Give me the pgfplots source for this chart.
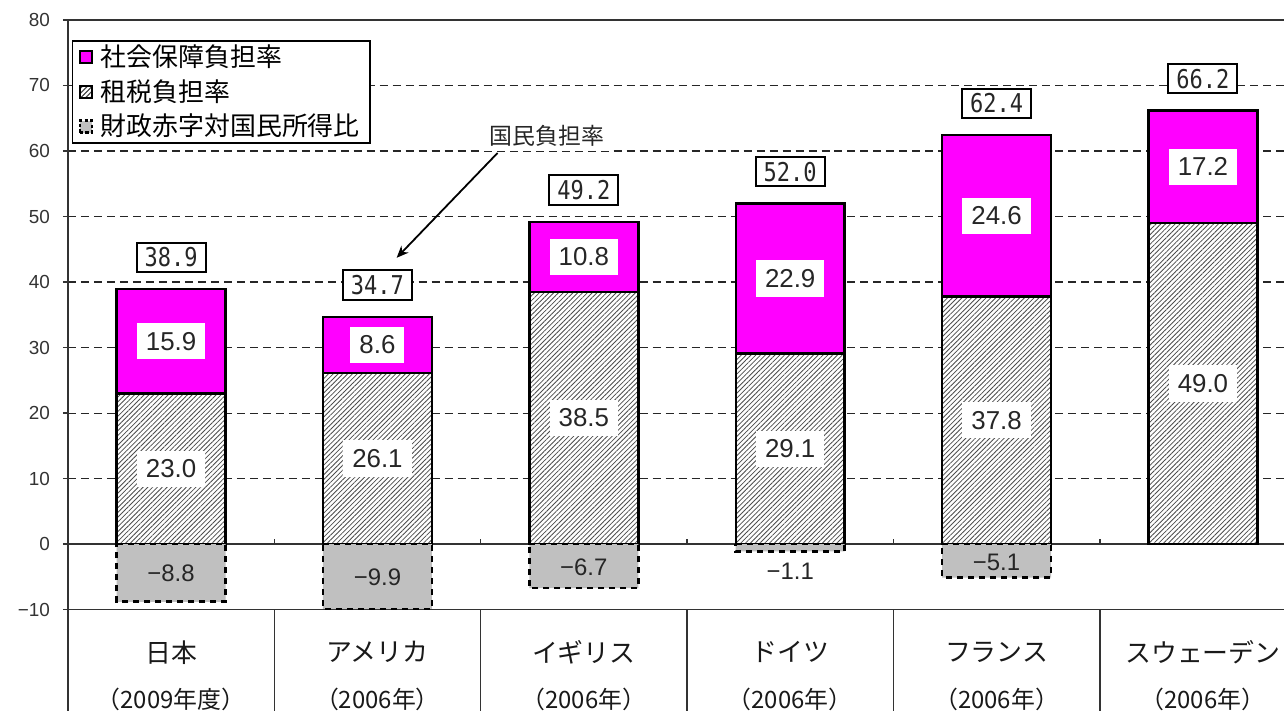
\documentclass[border=0pt]{standalone}
\usepackage{pgfplots}
\pgfplotsset{compat=1.18}
\usetikzlibrary{patterns.meta,arrows.meta}
\usepackage{fontspec}
\setmainfont{Liberation Sans}
\newfontfamily\jp{Noto Sans CJK JP}
\newfontfamily\mono[FakeStretch=0.85]{DejaVu Sans Mono}
\definecolor{mag}{RGB}{255,0,255}
\definecolor{defgray}{RGB}{192,192,192}
\begin{document}
\begin{tikzpicture}
\begin{axis}[
  scale only axis, width=608.5bp, height=295bp,
  xmin=-0.5, xmax=5.394, ymin=-10, ymax=80,
  xtick=\empty,
  ytick={-10,0,10,20,30,40,50,60,70,80},
  yticklabels={−10,0,10,20,30,40,50,60,70,80},
  ytick pos=left,
  tick align=outside, major tick length=2.5bp,
  tick style={black!80, line width=0.7bp},
  yticklabel style={font=\fontsize{9.5}{10}\selectfont, text=black!80, xshift=-3bp},
  axis line style={draw=none},
  ymajorgrids,
  grid style={black!85, line width=0.55bp, dash pattern=on 4bp off 2.5bp},
  clip=false,
  bar width=54.5bp,
  legend cell align=left,
  legend style={at={(axis cs:-0.5,80)}, anchor=north west, xshift=2bp, yshift=-10bp,
    draw=black, line width=0.8bp, fill=white,
    font=\jp\fontsize{13}{14}\selectfont,
    row sep=1bp, inner xsep=3bp, inner ysep=0bp},
]
% frame and table lines
\draw[black!80, line width=0.75bp] (axis cs:-0.5,80) -- (axis cs:5.394,80);
\draw[black!80, line width=0.75bp] (axis cs:-0.5,-10) -- (axis cs:5.394,-10);
\draw[black!80, line width=0.75bp] (axis cs:-0.5,0) -- (axis cs:5.394,0);
\draw[black!80, line width=0.75bp] (axis cs:-0.5,80) -- (axis cs:-0.5,-25.5);
\draw[black!80, line width=0.75bp] (axis cs:0.5,-10) -- (axis cs:0.5,-25.5);
\draw[black!80, line width=0.75bp] (axis cs:1.5,-10) -- (axis cs:1.5,-25.5);
\draw[black!80, line width=0.75bp] (axis cs:2.5,-10) -- (axis cs:2.5,-25.5);
\draw[black!80, line width=0.75bp] (axis cs:3.5,-10) -- (axis cs:3.5,-25.5);
\draw[black!80, line width=0.75bp] (axis cs:4.5,-10) -- (axis cs:4.5,-25.5);
\draw[black!80, line width=0.75bp] (axis cs:0.5,0) -- (axis cs:0.5,0.8);
\draw[black!80, line width=0.75bp] (axis cs:1.5,0) -- (axis cs:1.5,0.8);
\draw[black!80, line width=0.75bp] (axis cs:2.5,0) -- (axis cs:2.5,0.8);
\draw[black!80, line width=0.75bp] (axis cs:3.5,0) -- (axis cs:3.5,0.8);
\draw[black!80, line width=0.75bp] (axis cs:4.5,0) -- (axis cs:4.5,0.8);
\path (axis cs:-0.829,83.05) -- (axis cs:-0.5,80);

% social security (drawn as full total height)
\addplot[ybar, bar shift=0pt, fill=mag, draw=black, line width=1.2bp,
  legend image code/.code={\draw[fill=mag, draw=black, line width=0.8bp] (0bp,-3bp) rectangle (6bp,3bp);},
  nodes near coords, point meta=explicit symbolic,
  every node near coord/.style={anchor=south, yshift=8bp, draw=black, line width=1bp, fill=white,
    inner xsep=4bp, inner ysep=2.5bp, text=black!85, font=\mono\fontsize{13}{14}\selectfont}]
  coordinates {(0,38.9)[38.9] (1,34.7)[34.7] (2,49.2)[49.2] (3,52.0)[52.0] (4,62.4)[62.4] (5,66.2)[66.2]};
\addlegendentry{\hspace{2bp}社会保障負担率}
% tax burden
\addplot[ybar, bar shift=0pt, fill=white, draw=black, line width=1.2bp,
  postaction={pattern={Lines[angle=45,distance=1.7bp,line width=0.4bp]}, pattern color=black!70},
  legend image code/.code={\draw[fill=white, draw=black, line width=0.8bp, postaction={pattern={Lines[angle=45,distance=1.7bp,line width=0.4bp]}, pattern color=black!70}] (0bp,-3bp) rectangle (6bp,3bp);}]
  coordinates {(0,23.0) (1,26.1) (2,38.5) (3,29.1) (4,37.8) (5,49.0)};
\addlegendentry{\hspace{2bp}租税負担率}
% deficit
\addplot[ybar, bar shift=0pt, fill=defgray, draw=black, line width=1.3bp, dash pattern=on 3bp off 2.5bp,
  legend image code/.code={\draw[fill=defgray, draw=black, line width=1.1bp, dash pattern=on 1.6bp off 1.2bp] (0bp,-3bp) rectangle (6bp,3bp);}]
  coordinates {(0,-8.8) (1,-9.9) (2,-6.7) (3,-1.1) (4,-5.1)};
\addlegendentry{\hspace{2bp}財政赤字対国民所得比\hspace{10bp}}

% labels inside social security segments
\addplot[draw=none, mark=none, forget plot, nodes near coords, point meta=explicit symbolic,
  every node near coord/.style={anchor=center, fill=white, inner xsep=4.5bp, inner ysep=4.5bp,
    text=black!85, font=\fontsize{13}{13}\selectfont}]
  coordinates {(0,30.95)[15.9] (1,30.4)[8.6] (2,43.85)[10.8] (3,40.55)[22.9] (4,50.1)[24.6] (5,57.6)[17.2]};
% labels inside tax segments
\addplot[draw=none, mark=none, forget plot, nodes near coords, point meta=explicit symbolic,
  every node near coord/.style={anchor=center, fill=white, inner xsep=4.5bp, inner ysep=4.5bp,
    text=black!85, font=\fontsize{13}{13}\selectfont}]
  coordinates {(0,11.5)[23.0] (1,13.05)[26.1] (2,19.25)[38.5] (3,14.55)[29.1] (4,18.9)[37.8] (5,24.5)[49.0]};
% deficit labels
\addplot[draw=none, mark=none, forget plot, nodes near coords, point meta=explicit symbolic,
  every node near coord/.style={anchor=center, inner sep=0pt,
    text=black!85, font=\fontsize{12}{12}\selectfont}]
  coordinates {(0,-4.4)[−8.8] (1,-5.1)[−9.9] (2,-3.6)[−6.7] (3,-4.2)[−1.1] (4,-2.8)[−5.1]};
% category names
\addplot[draw=none, mark=none, forget plot, nodes near coords, point meta=explicit symbolic,
  every node near coord/.style={anchor=center, inner sep=0pt,
    text=black!90, font=\jp\fontsize{13}{13}\selectfont}]
  coordinates {(0,-16.5)[日本] (1,-16.5)[アメリカ] (2,-16.5)[イギリス] (3,-16.5)[ドイツ] (4,-16.5)[フランス] (5,-16.5)[スウェーデン]};
\addplot[draw=none, mark=none, forget plot, nodes near coords, point meta=explicit symbolic,
  every node near coord/.style={anchor=center, inner sep=0pt,
    text=black!90, font=\jp\fontsize{12}{12}\selectfont}]
  coordinates {(0,-23.7)[（2009年度）] (1,-23.7)[（2006年）] (2,-23.7)[（2006年）] (3,-23.7)[（2006年）] (4,-23.7)[（2006年）] (5,-23.7)[（2006年）]};

% annotation
\node[fill=white, inner xsep=4bp, inner ysep=2bp, text=black!85, font=\jp\fontsize{11.5}{12}\selectfont]
  at (axis cs:1.82,62.3) {国民負担率};
\draw[-{Stealth[length=6bp,width=5bp]}, line width=0.9bp] (axis cs:1.582,59.7) -- (axis cs:1.093,43.7);
\end{axis}
\end{tikzpicture}
\end{document}
